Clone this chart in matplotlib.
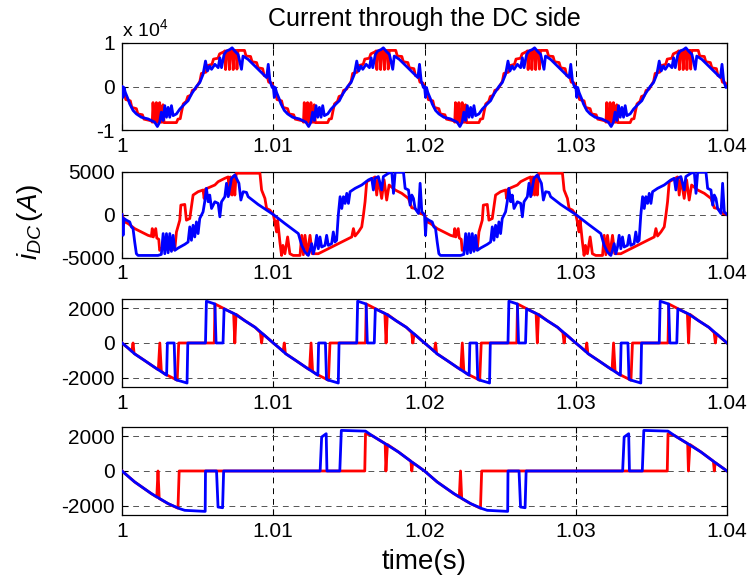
import numpy as np
import matplotlib
matplotlib.use("Agg")
import matplotlib.pyplot as plt

plt.rcParams['font.family'] = ['Liberation Sans', 'DejaVu Sans']
plt.rcParams['axes.unicode_minus'] = False
plt.rcParams['mathtext.fontset'] = 'custom'
plt.rcParams['mathtext.rm'] = 'Liberation Sans'
plt.rcParams['mathtext.it'] = 'Liberation Sans:italic'

# ---------------- data (time within one period in ms, current in A) -------------
# Panel 1 : period 10 ms
p1_red_t = [0, 0.15, 0.25, 0.55, 0.65, 0.95, 1.05, 1.35, 1.45, 1.95,
            2.0, 2.05, 2.12, 2.22, 2.27, 2.34, 2.44, 2.49, 2.56, 2.66, 2.71, 2.78,
            3.6, 3.7, 3.85, 3.95, 4.05, 4.25, 4.35, 4.55, 4.65, 4.85, 4.95,
            5.15, 5.25, 5.55, 5.65, 5.95, 6.05, 6.35, 6.45, 6.75,
            6.8, 6.85, 6.92, 7.05, 7.1, 7.17, 7.3, 7.35, 7.42, 7.55, 7.6, 7.67,
            8.1, 8.2, 8.5, 8.6, 8.9, 9.0, 9.3, 9.4, 9.6, 9.7, 9.9, 10.0]
p1_red_v = [0, -1200, -3000, -3300, -4800, -5100, -6300, -6500, -7500, -7900,
            -8200, -3700, -8200, -8200, -3700, -8200, -8200, -3700, -8200, -8200, -4200, -8300,
            -8300, -7500, -7400, -5600, -4000, -3400, -2300, -2000, -900, -600, 0,
            1200, 3000, 3300, 4800, 5100, 6300, 6500, 7500, 8000,
            8200, 3900, 8200, 8200, 3900, 8200, 8300, 3900, 8300, 8300, 4000, 8300,
            8300, 7000, 6900, 5700, 5500, 4300, 4100, 2500, 2300, 1000, 800, 0]
p1_blue_t = [0, 0.07, 0.13, 0.22, 0.4, 0.51, 0.73, 0.95, 1.28, 1.72, 2.16, 2.34, 2.49,
             2.6, 2.72, 2.83, 2.94, 3.05, 3.16, 3.27, 3.38, 3.6, 3.82, 4.15, 4.37, 4.59,
             4.92, 5.14, 5.36, 5.52, 5.65, 5.8, 5.92, 6.14, 6.36, 6.47, 6.58, 6.75, 6.9,
             7.13, 7.28, 7.46, 7.68, 7.9, 8.0, 8.34, 8.56, 8.79, 9.0, 9.23, 9.45, 9.56,
             9.67, 9.78, 9.93, 10.0]
p1_blue_v = [0, -2500, -230, -1370, -2900, -4000, -5500, -6300, -7070, -7450, -8200, -9200, -8200,
             -5900, -7800, -4400, -7070, -4800, -7070, -4400, -6700, -6300, -5200, -4000, -3270, -1750,
             0, 900, 2800, 5850, 3570, 4700, 3950, 5100, 4330, 6600, 4330, 7370, 8130,
             8500, 8900, 8130, 7370, 3950, 7000, 6230, 5470, 4700, 3950, 3190, 2430, 2050,
             5100, 1290, -230, 0]

# Panel 2 : period 20 ms
p2_red_t = [0, 0.18, 0.4, 0.84, 1.28, 1.72, 1.94, 2.0, 2.07, 2.23, 2.3, 2.43, 2.49, 2.6,
            3.49, 3.6, 3.82, 3.89, 4.15, 4.26, 4.48, 4.59, 4.7, 5.03, 5.36, 5.43, 5.52,
            6.14, 6.36, 6.8, 7.02, 7.09, 7.17, 7.28, 7.37, 7.46, 7.55, 9.12, 9.23, 9.45,
            9.56, 9.78, 10.0,
            10.11, 10.22, 10.29, 10.44, 10.55, 10.64, 10.77, 10.95, 11.1, 11.32, 11.77,
            11.88, 11.99, 12.1, 12.25, 12.43, 12.58, 12.98, 13.42, 13.86, 14.3, 14.75,
            15.19, 15.3, 15.41, 15.63, 15.85, 15.96, 16.07, 16.18, 16.51, 16.73, 16.84,
            16.95, 17.17, 17.33, 17.5, 17.66, 18.06, 18.5, 18.94, 19.16, 19.38, 19.71, 20.0]
p2_red_v = [0, -860, -1050, -1640, -2030, -2420, -2540, -1640, -2610, -1640, -2730, -2890, -4170, -3980,
            -4060, -2030, -660, 1090, 1170, -660, -470, 900, 2260, 2650, 2850, 1870, 2960,
            3430, 3820, 4210, 4370, 2260, 4370, 2260, 4450, 2260, 4800, 4800, 2850, 1870,
            700, 510, 0,
            -860, -2030, -660, -3200, -4760, -3590, -4560, -2610, -4560, -4760, -4760,
            -2420, -4680, -2420, -4680, -2420, -4560, -4560, -4170, -3780, -3390, -3000,
            -2610, -1640, -2500, -2030, -1440, -80, 1480, 3820, 4130, 4370, 2260,
            4210, 1870, 4020, 1680, 3430, 2850, 2460, 1870, 780, 700, 120, 0]
p2_blue_t = [0, 0.07, 0.13, 0.29, 0.51, 0.62, 0.73, 0.84, 0.95, 1.06, 2.38, 2.6, 2.72, 2.83,
             2.94, 3.05, 3.16, 3.27, 3.38, 3.49, 3.71, 4.15, 4.37, 4.48, 4.59, 4.7, 4.81,
             4.92, 5.03, 5.14, 5.25, 5.36, 5.47, 5.58, 5.7, 5.8, 5.92, 6.14, 6.36, 6.47,
             6.58, 6.8, 6.91, 7.02, 7.24, 7.46, 7.57, 7.73, 7.86, 8.01, 8.23, 8.34, 9.0,
             10.0, 10.77, 11.66, 11.88, 12.1, 12.32, 12.43, 12.54, 12.65, 12.76, 12.87,
             12.98, 13.09, 13.2, 13.42, 13.53, 13.64, 13.86, 13.97, 14.08, 14.19, 14.3,
             14.42, 14.53, 14.64, 14.75, 14.86, 14.97, 15.08, 15.41, 15.85, 16.29, 16.51,
             16.62, 16.73, 16.95, 17.17, 17.28, 17.62, 17.84, 17.95, 18.06, 18.61, 18.72,
             18.94, 19.05, 19.16, 19.27, 19.38, 19.6, 19.71, 19.82, 20.0]
p2_blue_v = [0, -2420, -470, -660, -860, -1440, -1640, -3200, -4560, -4760, -4760, -4640, -2220, -4560,
             -2220, -4450, -2220, -4290, -2420, -4170, -3900, -3470, -3200, -1440, -3000, -1250, -2610,
             -860, -2220, -470, -80, 310, 1480, 3040, 1480, 2260, 700, 1480, 1290, -270,
             1480, 2070, 3630, 2070, 4210, 4600, 4210, 3630, 1680, 2650, 2570, 2070, 1170,
             0, -1050, -2220, -3590, -4370, -4760, -4170, -3390, -4560, -3780, -2420,
             -3980, -2610, -3780, -3590, -2420, -3590, -3390, -2030, -3200, -3000, -80,
             2070, 700, 2070, 1290, 2460, 1290, 2650, 3040, 3430, 4020, 4210,
             2850, 4210, 4410, 2850, 4410, 4800, 4910, 2460, 4910, 4910, 3040,
             2850, 1090, 2260, 1870, 700, 120, 3630, 310, 0]

# Panel 3 : period 10 ms
p3_red_t = [0, 0.4, 0.65, 0.73, 0.8, 1.5, 2.16, 2.4, 2.5, 2.6, 2.83, 3.5, 3.65, 3.75,
            6.1, 6.15, 6.8, 7.38, 7.46, 7.54, 8.12, 8.8, 9.15, 9.23, 9.31, 10.0]
p3_red_v = [0, -290, -480, 0, -600, -1010, -1400, -1540, 0, -1620, -1780, -2070, -2140, 0,
            0, 2240, 1950, 1690, 0, 1650, 1280, 900, 600, 0, 520, 0]
p3_blue_t = [0, 0.4, 0.84, 1.5, 2.16, 2.83, 2.95, 3.0, 3.45, 3.52, 3.6, 4.15, 4.3, 4.35,
             5.52, 5.58, 6.14, 6.22, 6.68, 6.75, 7.46, 8.12, 8.8, 9.45, 10.0]
p3_blue_v = [0, -290, -630, -1010, -1400, -1780, -1850, 0, 0, -2080, -2120, -2260, -2300, 0,
             0, 2400, 2240, 0, 0, 1960, 1665, 1280, 900, 420, 0]

# Panel 4 : period 20 ms
p4_red_t = [0, 0.84, 1.94, 2.3, 2.38, 2.46, 3.05, 3.7, 3.78, 16.05, 16.1, 16.5, 17.4,
            17.45, 17.55, 18.28, 19.1, 19.16, 19.22, 20.0]
p4_red_v = [0, -630, -1300, -1500, 0, -1580, -1875, -2140, 0, 0, 2140, 2050, 1570,
            0, 1520, 1090, 560, 0, 480, 0]
p4_blue_t = [0, 0.84, 1.94, 3.05, 3.8, 4.15, 5.5, 5.52, 6.25, 6.35, 6.65, 6.72, 13.1,
             13.2, 13.5, 13.55, 14.4, 14.5, 16.1, 16.5, 17.4, 18.28, 19.16, 20.0]
p4_blue_v = [0, -630, -1300, -1875, -2160, -2260, -2320, 0, 0, -2070, -2110, 0, 0,
             1950, 2140, 0, 0, 2330, 2290, 2050, 1570, 1090, 520, 0]

x_ticks = [1, 1.01, 1.02, 1.03, 1.04]
x_ticklabels = ['1', '1.01', '1.02', '1.03', '1.04']
y_ticks = [[-10000, 0, 10000], [-5000, 0, 5000], [-2000, 0, 2000], [-2000, 0, 2000]]
y_ticklabels = [['-1', '0', '1'], ['-5000', '0', '5000'],
                ['-2000', '0', '2000'], ['-2000', '0', '2000']]
y_limits = [(-10000, 10000), (-5000, 5000), (-2545, 2526), (-2545, 2526)]


def repeat(t_ms, v, period, n):
    t_ms = np.asarray(t_ms, float)
    v = np.asarray(v, float)
    tt = np.concatenate([t_ms + k * period for k in range(n)])
    vv = np.concatenate([v for _ in range(n)])
    return 1.0 + tt / 1000.0, vv


panels = [
    (p1_red_t, p1_red_v, p1_blue_t, p1_blue_v, 10.0, 4),
    (p2_red_t, p2_red_v, p2_blue_t, p2_blue_v, 20.0, 2),
    (p3_red_t, p3_red_v, p3_blue_t, p3_blue_v, 10.0, 4),
    (p4_red_t, p4_red_v, p4_blue_t, p4_blue_v, 20.0, 2),
]

fig = plt.figure(figsize=(7.52, 5.81), dpi=100)
W, H = 752.0, 581.0
left, right = 122, 727
boxes = [(43, 130), (171.5, 257.5), (299, 387.3), (427, 515.3)]

axes = []
for i, (rt, rv, bt, bv, per, n) in enumerate(panels):
    top, bot = boxes[i]
    ax = fig.add_axes([left / W, 1 - bot / H, (right - left) / W, (bot - top) / H])
    axes.append(ax)
    xr, yr = repeat(rt, rv, per, n)
    xb, yb = repeat(bt, bv, per, n)
    ax.plot(xr, yr, color='#ff0000', lw=2.0, zorder=3)
    ax.plot(xb, yb, color='#0000ff', lw=2.0, zorder=4)
    ax.set_xlim(1, 1.04)
    ax.set_ylim(*y_limits[i])
    ax.set_xticks(x_ticks)
    ax.set_xticklabels(x_ticklabels)
    ax.set_yticks(y_ticks[i])
    ax.set_yticklabels(y_ticklabels[i])
    ax.tick_params(direction='in', length=4, width=0.8, top=True, right=True,
                   labelsize=15, pad=5, colors='black')
    ax.set_axisbelow(True)
    ax.grid(True, axis='x', color='black', linestyle=(0, (6, 5)), linewidth=0.7)
    ax.grid(True, axis='y', color='#555555', linestyle=(0, (6, 5)), linewidth=0.7)
    for s in ax.spines.values():
        s.set_linewidth(0.9)
        s.set_color('black')

axes[0].set_title('Current through the DC side', fontsize=18, pad=12)
axes[0].text(0.0, 1.03, r'x 10$^{4}$', transform=axes[0].transAxes,
             ha='left', va='bottom', fontsize=14)
fig.text(30 / W, 1 - 222 / H, r'$i_{DC}\,(A)$', rotation=90, ha='center', va='center',
         fontsize=20)
fig.text(424 / W, 1 - 562 / H, 'time(s)', ha='center', va='center', fontsize=20)

fig.savefig('out.png', dpi=100)
